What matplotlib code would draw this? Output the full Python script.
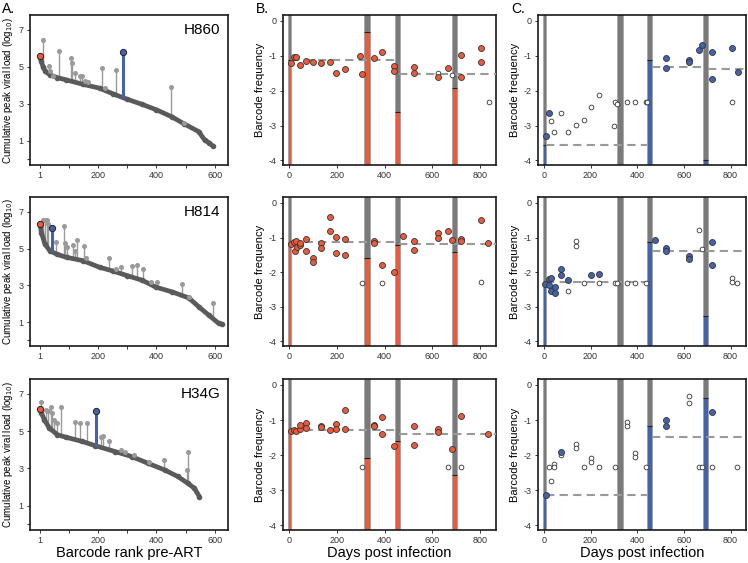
import numpy as np
import matplotlib
matplotlib.use('Agg')
import matplotlib.pyplot as plt

# colours
red = '#ec5a3c'
blue = '#4563ac'
darkgray = '#5a5a5a'
stemgray = '#9a9a9a'
bargray = '#7a7a7a'

animals = ['H860', 'H814', 'H34G']

# ---- panel A: cumulative peak viral load vs barcode rank ----
curve_rank = [
    [1, 5, 12, 20, 35, 60, 90, 150, 205, 250, 300, 350, 400, 453, 495, 545, 565, 580, 595],
    [1, 6, 18, 35, 60, 92, 148, 205, 250, 299, 352, 398, 454, 511, 545, 579, 613, 625],
    [1, 6, 16, 33, 61, 89, 146, 191, 258, 315, 371, 428, 473, 507, 530, 547],
]
curve_val = [
    [5.6, 5.3, 5.0, 4.75, 4.57, 4.42, 4.3, 4.05, 3.85, 3.55, 3.25, 2.98, 2.68, 2.3, 1.92, 1.5, 1.05, 0.9, 0.7],
    [6.35, 5.87, 5.24, 4.88, 4.68, 4.52, 4.34, 3.98, 3.78, 3.53, 3.27, 2.9, 2.64, 2.31, 1.83, 1.38, 0.93, 0.88],
    [6.19, 5.98, 5.62, 5.17, 4.81, 4.68, 4.45, 4.22, 3.91, 3.64, 3.28, 2.92, 2.57, 2.21, 1.94, 1.49],
]
stem_rank = [
    [12, 33, 37, 46, 68, 108, 112, 120, 137, 145, 157, 165, 214, 223, 261, 450, 495],
    [10, 18, 24, 29, 55, 84, 86, 95, 114, 120, 129, 152, 160, 239, 262, 278, 316, 332, 355, 383, 402, 488, 511, 593],
    [6, 21, 29, 38, 44, 48, 58, 74, 122, 137, 163, 211, 216, 239, 279, 293, 322, 376, 426, 506, 508],
]
stem_top = [
    [6.46, 5.07, 4.75, 4.48, 5.83, 5.47, 5.23, 4.66, 4.48, 4.5, 4.26, 4.2, 4.93, 3.85, 4.84, 3.9, 1.99],
    [6.55, 6.55, 6.55, 6.32, 5.33, 6.23, 5.28, 5.1, 5.19, 4.88, 5.46, 5.15, 4.49, 4.47, 3.9, 3.98, 4.03, 4.13, 3.9, 3.18, 3.18, 3.09, 2.37, 2.06],
    [6.55, 6.12, 6.07, 6.28, 5.98, 5.62, 5.44, 6.3, 5.49, 5.44, 5.42, 4.68, 4.72, 4.49, 4.0, 3.91, 3.73, 3.37, 3.46, 2.92, 3.86],
]
red_rank = [1, 1, 1]
red_val = [5.6, 6.35, 6.19]
blue_rank = [286, 42, 192]
blue_val = [5.79, 6.14, 6.08]

# ---- panels B and C: barcode frequency over time ----
bar_day = [3, 325, 452, 692]
bar_width = [14, 25, 21, 22]

b_bar_top = [[-1.12, -0.33, -2.62, -1.93],
             [-1.15, -1.60, -1.22, -1.42],
             [-1.31, -2.08, -1.60, -2.56]]
c_bar_top = [[-3.55, None, -1.11, -3.99],
             [-2.29, None, -1.13, -3.25],
             [-3.11, None, -1.18, -0.38]]

b_seg = [[(10, 442, -1.13), (462, 865, -1.52)],
         [(10, 442, -1.14), (462, 865, -1.18)],
         [(10, 442, -1.28), (462, 865, -1.40)]]
c_seg = [[(11, 442, -3.55), (462, 680, -1.32), (703, 865, -1.37)],
         [(10, 442, -2.27), (462, 865, -1.38)],
         [(10, 442, -3.12), (462, 865, -1.49)]]

b_fill_day = [
    [10, 21, 31, 45, 71, 99, 136, 170, 198, 235, 297, 306, 354, 390, 439, 439, 523, 523, 623, 664, 721, 721, 805, 805],
    [10, 21, 25, 31, 35, 45, 45, 71, 71, 99, 99, 136, 136, 170, 170, 198, 198, 235, 235, 354, 354, 390, 439, 476, 523, 523,
     623, 623, 664, 680, 720, 720, 805, 833],
    [10, 21, 31, 45, 45, 71, 71, 136, 136, 170, 198, 198, 235, 235, 354, 354, 390, 390, 439, 523, 523, 623, 623, 680, 721, 833],
]
b_fill_val = [
    [-1.22, -1.04, -1.04, -1.26, -1.14, -1.17, -1.22, -1.17, -1.50, -1.38, -1.00, -1.52, -1.07, -0.90, -1.29, -1.43,
     -1.31, -1.48, -1.60, -1.36, -0.98, -1.60, -0.78, -1.18],
    [-1.18, -1.13, -1.38, -1.11, -1.27, -1.22, -1.15, -1.04, -1.39, -1.59, -1.70, -1.15, -1.30, -0.41, -0.82, -0.98, -1.46,
     -1.04, -1.50, -1.09, -1.15, -1.79, -2.00, -0.96, -1.10, -1.37, -0.88, -1.01, -0.81, -1.06, -1.03, -1.10, -0.50, -1.16],
    [-1.32, -1.29, -1.32, -1.26, -1.15, -1.08, -1.22, -1.17, -1.20, -1.29, -1.10, -1.24, -0.72, -1.24, -1.13, -1.17, -0.92,
     -1.40, -1.73, -1.17, -1.71, -1.26, -1.34, -1.82, -0.88, -1.40],
]
b_open_day = [[623, 680, 836], [306, 390, 805], [306, 664, 721]]
b_open_val = [[-1.50, -1.55, -2.32], [-2.32, -2.32, -2.29], [-2.33, -2.33, -2.33]]

c_fill_day = [
    [11, 24, 522, 522, 621, 621, 663, 678, 719, 719, 804, 830],
    [7, 21, 24, 32, 32, 47, 47, 73, 73, 102, 200, 236, 475, 522, 522, 621, 621, 719, 719],
    [11, 73, 522, 522, 719],
]
c_fill_val = [
    [-3.31, -2.63, -1.05, -1.35, -1.13, -1.19, -0.82, -0.68, -0.90, -1.67, -0.79, -1.46],
    [-2.33, -2.21, -2.38, -2.18, -2.53, -2.43, -2.60, -1.92, -2.07, -2.23, -2.07, -2.05, -1.08, -1.30, -1.38, -1.54, -1.61,
     -1.12, -1.78],
    [-3.13, -1.91, -1.01, -1.18, -0.78],
]
c_open_day = [
    [31, 45, 73, 102, 138, 172, 200, 236, 299, 305, 313, 355, 391, 437, 444, 804],
    [102, 138, 138, 172, 236, 305, 313, 355, 391, 437, 663, 678, 804, 804, 829],
    [24, 31, 45, 45, 73, 138, 138, 172, 200, 200, 236, 305, 355, 355, 391, 391, 437, 621, 621, 663, 678, 719, 829],
]
c_open_val = [
    [-2.88, -3.19, -2.63, -3.19, -2.97, -2.83, -2.47, -2.12, -3.02, -2.33, -2.38, -2.33, -2.33, -2.33, -2.33, -2.33],
    [-2.53, -1.11, -1.25, -2.32, -2.32, -2.32, -2.32, -2.32, -2.32, -2.32, -0.79, -1.33, -2.16, -2.28, -2.32],
    [-2.33, -2.74, -2.25, -2.34, -2.00, -1.67, -1.80, -2.33, -2.08, -2.20, -2.33, -2.33, -1.05, -1.17, -1.94, -2.06, -2.33,
     -0.32, -0.50, -2.33, -2.33, -2.33, -2.33],
]

W, H = 748, 563
fig = plt.figure(figsize=(W / 100, H / 100), dpi=100)
plt.rcParams['font.family'] = ['Liberation Sans', 'DejaVu Sans']


def px_axes(left, right, top, bottom):
    return fig.add_axes([left / W, 1 - bottom / H, (right - left) / W, (bottom - top) / H])


def style(ax):
    for s in ax.spines.values():
        s.set_linewidth(1.2)
        s.set_color('#1a1a1a')
    ax.tick_params(labelsize=6.5, length=2.5, width=0.7, pad=2, colors='#333333')


rows = [(15, 165), (197, 346), (379, 530)]
ylo, yhi = -4.13, 0.17

for i, (top, bottom) in enumerate(rows):
    # panel A
    ax = px_axes(30, 228, top, bottom)
    ax.plot(curve_rank[i], curve_val[i], color=darkgray, lw=3.4, solid_capstyle='round', zorder=2)
    ax.plot(curve_rank[i], curve_val[i], 'o', color=darkgray, ms=3, zorder=2)
    base = np.interp(stem_rank[i], curve_rank[i], curve_val[i])
    ax.vlines(stem_rank[i], base, stem_top[i], color=stemgray, lw=1.0, zorder=1)
    ax.plot(stem_rank[i], stem_top[i], 'o', color=stemgray, ms=2.6, zorder=3)
    bb = np.interp(blue_rank[i], curve_rank[i], curve_val[i])
    ax.vlines(blue_rank[i], bb, blue_val[i], color=blue, lw=2.2, zorder=3)
    ax.plot(blue_rank[i], blue_val[i], 'o', mfc=blue, mec='#222222', mew=0.7, ms=4.5, zorder=4)
    ax.plot(red_rank[i], red_val[i], 'o', mfc=red, mec='#222222', mew=0.7, ms=4.5, zorder=4)
    ax.set_xlim(-33, 645)
    ax.set_ylim(-0.3, 7.8)
    ax.set_xticks([1, 100, 200, 300, 400, 500, 600])
    ax.set_xticklabels(['1', '', '200', '', '400', '', '600'])
    ax.set_yticks([0, 1, 3, 5, 7])
    ax.set_yticklabels(['', '1', '3', '5', '7'])
    ax.text(0.96, 0.9, animals[i], transform=ax.transAxes, ha='right', va='center', fontsize=11)
    ax.set_ylabel('Cumulative peak viral load (log$_{10}$)', fontsize=7, labelpad=3)
    style(ax)

    # panels B and C
    for j, (left, right) in enumerate([(283, 496), (538, 746)]):
        ax = px_axes(left, right, top, bottom)
        col = red if j == 0 else blue
        tops = b_bar_top[i] if j == 0 else c_bar_top[i]
        segs = b_seg[i] if j == 0 else c_seg[i]
        fd = b_fill_day[i] if j == 0 else c_fill_day[i]
        fv = b_fill_val[i] if j == 0 else c_fill_val[i]
        od = b_open_day[i] if j == 0 else c_open_day[i]
        ov = b_open_val[i] if j == 0 else c_open_val[i]

        ax.bar(bar_day, yhi - ylo + 1, width=bar_width, bottom=ylo - 0.5, color=bargray,
               edgecolor='#a8a8a8', lw=0.6, zorder=1)
        for d, w, t in zip(bar_day, bar_width, tops):
            if t is not None:
                ax.bar(d, t - ylo + 0.5, width=w, bottom=ylo - 0.5, color=col,
                       edgecolor='#a8a8a8', lw=0.6, zorder=2)
                ax.hlines(t, d - w / 2, d + w / 2, color='#222222', lw=0.8, zorder=2)
        for s0, s1, v in segs:
            ax.hlines(v, s0, s1, colors='#9a9a9a', linestyles=(0, (4, 2.5)), lw=1.5, zorder=3)
        ax.plot(od, ov, 'o', mfc='white', mec='#333333', mew=0.6, ms=3.4, zorder=4)
        ax.plot(fd, fv, 'o', mfc=col, mec='#333333', mew=0.6, ms=4.3, zorder=5)

        ax.set_xlim(-25, 866)
        ax.set_ylim(ylo, yhi)
        ax.set_xticks([0, 200, 400, 600, 800])
        ax.set_yticks([0, -1, -2, -3, -4])
        ax.set_yticklabels(['0', '-1', '-2', '-3', '-4'])
        ax.set_ylabel('Barcode frequency', fontsize=8, labelpad=3)
        style(ax)

# bottom axis titles
fig.text(129 / W, 1 - 553 / H, 'Barcode rank pre-ART', fontsize=10.5, ha='center', va='center')
fig.text(389 / W, 1 - 553 / H, 'Days post infection', fontsize=10.5, ha='center', va='center')
fig.text(642 / W, 1 - 553 / H, 'Days post infection', fontsize=10.5, ha='center', va='center')

fig.text(2 / W, 1 - 2 / H, 'A.', fontsize=10, va='top', ha='left')
fig.text(256 / W, 1 - 2 / H, 'B.', fontsize=10, va='top', ha='left')
fig.text(511 / W, 1 - 2 / H, 'C.', fontsize=10, va='top', ha='left')

fig.savefig('out.png', dpi=100)
